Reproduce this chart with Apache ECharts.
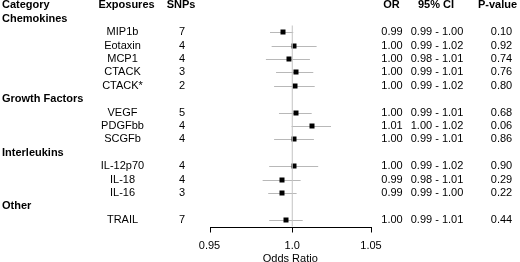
<!DOCTYPE html>
<html>
<head>
<meta charset="utf-8">
<script src="https://cdn.jsdelivr.net/npm/echarts@6/dist/echarts.min.js"></script>
<style>
html,body{margin:0;padding:0;background:#fff;}
#chart{width:520px;height:262px;}
</style>
</head>
<body>
<div id="chart"></div>
<script>
// ---------- data ----------
const headers = ['Category', 'Exposures', 'SNPs', 'OR', '95% CI', 'P-value'];
const groups = ['Chemokines', 'Growth Factors', 'Interleukins', 'Other'];
const exposures = ['MIP1b', 'Eotaxin', 'MCP1', 'CTACK', 'CTACK*', 'VEGF', 'PDGFbb', 'SCGFb', 'IL-12p70', 'IL-18', 'IL-16', 'TRAIL'];
const exposureGroup = [0, 0, 0, 0, 0, 1, 1, 1, 2, 2, 2, 3];
const snps = [7, 4, 4, 3, 2, 5, 4, 4, 4, 4, 3, 7];
const orEst = [0.9941, 1.0011, 0.9980, 1.0021, 1.0017, 1.0021, 1.0121, 1.0011, 1.0009, 0.9938, 0.9938, 0.9959];
const ciLow = [0.9863, 0.9873, 0.9838, 0.9900, 0.9888, 0.9918, 0.9996, 0.9888, 0.9858, 0.9818, 0.9852, 0.9858];
const ciHigh = [1.0006, 1.0152, 1.0110, 1.0131, 1.0140, 1.0121, 1.0243, 1.0135, 1.0162, 1.0052, 1.0027, 1.0065];
const orText = ['0.99', '1.00', '1.00', '1.00', '1.00', '1.00', '1.01', '1.00', '1.00', '0.99', '0.99', '1.00'];
const ciText = ['0.99 - 1.00', '0.99 - 1.02', '0.98 - 1.01', '0.99 - 1.01', '0.99 - 1.02', '0.99 - 1.01', '1.00 - 1.02', '0.99 - 1.01', '0.99 - 1.02', '0.98 - 1.01', '0.99 - 1.00', '0.99 - 1.01'];
const pText = ['0.10', '0.92', '0.74', '0.76', '0.80', '0.68', '0.06', '0.86', '0.90', '0.29', '0.22', '0.44'];
const xTicks = [0.95, 1.0, 1.05];
const xTickLabels = ['0.95', '1.0', '1.05'];
const xTitle = 'Odds Ratio';

// ---------- layout ----------
const FONT = '"Liberation Sans", Arial, Helvetica, sans-serif';
const headerX = [2, 126.5, 181, 391.5, 436, 497.5];
const headerAlign = ['left', 'center', 'center', 'center', 'center', 'center'];
const cellX = {group: 2, exposure: 122.5, snp: 182, or: 392, ci: 437, p: 501.5};
const LOG = Math.log;

// build row indices (row 0 = header)
const textCells = [];
headers.forEach((h, i) => textCells.push({x: headerX[i], r: 0, t: h, align: headerAlign[i], bold: true}));
const forestRows = [];
let r = 0, lastGroup = -1;
exposures.forEach((e, i) => {
  if (exposureGroup[i] !== lastGroup) {
    r++;
    lastGroup = exposureGroup[i];
    textCells.push({x: cellX.group, r: r, t: groups[lastGroup], align: 'left', bold: true});
  }
  r++;
  textCells.push({x: cellX.exposure, r: r, t: e, align: 'center'});
  textCells.push({x: cellX.snp, r: r, t: String(snps[i]), align: 'center'});
  textCells.push({x: cellX.or, r: r, t: orText[i], align: 'center'});
  textCells.push({x: cellX.ci, r: r, t: ciText[i], align: 'center'});
  textCells.push({x: cellX.p, r: r, t: pText[i], align: 'center'});
  forestRows.push([LOG(ciLow[i]), LOG(ciHigh[i]), LOG(orEst[i]), r]);
});
const rMin = 1.5, rMax = r + 0.5;

const chart = echarts.init(document.getElementById('chart'), null, {renderer: 'canvas'});
const tickVals = xTicks.map(LOG);
const xMin = tickVals[0], xMax = tickVals[tickVals.length - 1];
const bigBounds = {left: -200, top: -200, right: -200, bottom: -200};

const option = {
  animation: false,
  textStyle: {fontFamily: FONT},
  grid: [
    {left: 209.5, width: 161.5, top: 25.5, height: 201, outerBounds: bigBounds},
    {left: 0, width: 520, top: 25.5, height: 201, outerBounds: bigBounds}
  ],
  xAxis: [
    {
      gridIndex: 0, type: 'value', min: xMin, max: xMax,
      axisLine: {show: false, onZero: false},
      axisTick: {show: false},
      axisLabel: {
        show: true, customValues: tickVals, color: '#000', fontSize: 11, margin: 14, fontFamily: FONT,
        formatter: v => {
          const k = tickVals.findIndex(t => Math.abs(t - v) < 1e-9);
          return k >= 0 ? xTickLabels[k] : '';
        }
      },
      splitLine: {show: false},
      name: xTitle, nameLocation: 'middle', nameGap: 27, nameMoveOverlap: false,
      nameTextStyle: {color: '#000', fontSize: 11, fontFamily: FONT}
    },
    {gridIndex: 1, type: 'value', min: 0, max: 520, show: false}
  ],
  yAxis: [
    {gridIndex: 0, type: 'value', inverse: true, min: rMin, max: rMax, show: false},
    {gridIndex: 1, type: 'value', inverse: true, min: rMin, max: rMax, show: false}
  ],
  series: [
    {
      // reference line at OR = 1
      type: 'line', xAxisIndex: 0, yAxisIndex: 0, symbol: 'none', silent: true,
      data: [[0, rMin], [0, rMax]],
      lineStyle: {color: '#c4c4c4', width: 1}
    },
    {
      // header rule
      type: 'line', xAxisIndex: 1, yAxisIndex: 1, symbol: 'none', silent: true,
      data: [[0, 0.44], [520, 0.44]],
      lineStyle: {color: '#444', width: 1}
    },
    {
      type: 'custom', xAxisIndex: 0, yAxisIndex: 0, clip: false,
      data: forestRows,
      encode: {x: [0, 1, 2], y: 3},
      renderItem: (params, api) => {
        const a = api.coord([api.value(0), api.value(3)]);
        const b = api.coord([api.value(1), api.value(3)]);
        const c = api.coord([api.value(2), api.value(3)]);
        const y = Math.round(c[1]) + 0.5;
        return {
          type: 'group',
          children: [
            {type: 'line', shape: {x1: a[0], y1: y, x2: b[0], y2: y}, style: {stroke: '#b8b8b8', lineWidth: 1}},
            {type: 'rect', shape: {x: Math.round(c[0]) - 2.5, y: y - 3, width: 5, height: 5}, style: {fill: '#000'}}
          ]
        };
      }
    },
    {
      type: 'custom', xAxisIndex: 1, yAxisIndex: 1, clip: false,
      data: textCells.map(c => [c.x, c.r]),
      encode: {x: 0, y: 1},
      renderItem: (params, api) => {
        const cell = textCells[params.dataIndex];
        const p = api.coord([api.value(0), api.value(1)]);
        return {
          type: 'text', x: p[0], y: p[1],
          style: {
            text: cell.t, fill: '#000', align: cell.align, verticalAlign: 'middle',
            font: (cell.bold ? 'bold ' : '') + '11px ' + FONT
          }
        };
      }
    }
  ]
};
chart.setOption(option);

// axis baseline and ticks, positioned through the forest axis scale
const pMin = chart.convertToPixel({gridIndex: 0}, [xMin, rMax]);
const pMax = chart.convertToPixel({gridIndex: 0}, [xMax, rMax]);
const yLine = Math.round(pMin[1]) + 0.5;
const axisElements = [{
  type: 'line', z: 100, silent: true,
  shape: {x1: Math.round(pMin[0]), y1: yLine, x2: Math.round(pMax[0]) + 1, y2: yLine},
  style: {stroke: '#000', lineWidth: 1}
}];
tickVals.forEach(v => {
  const p = chart.convertToPixel({gridIndex: 0}, [v, rMax]);
  const x = Math.round(p[0]) + 0.5;
  axisElements.push({
    type: 'line', z: 100, silent: true,
    shape: {x1: x, y1: yLine, x2: x, y2: yLine + 5},
    style: {stroke: '#000', lineWidth: 1}
  });
});
chart.setOption({graphic: {elements: axisElements}});
</script>
</body>
</html>
